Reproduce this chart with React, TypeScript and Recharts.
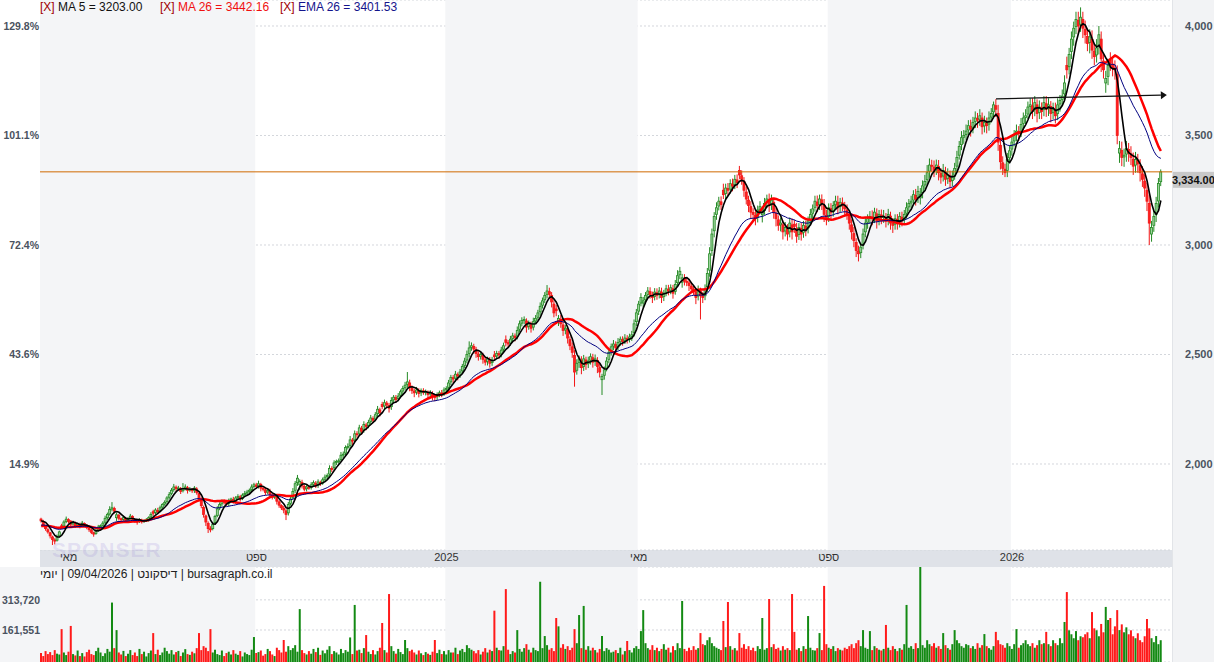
import { Bar, Cell, ComposedChart, CartesianGrid, Line, ReferenceArea, ReferenceLine, XAxis, YAxis } from "recharts";

// closes before the first visible day, only used to warm up the moving averages
const historyCloses = [
  1705, 1712, 1698, 1690, 1702, 1715, 1720, 1708, 1695, 1700, 1712, 1725, 1718,
  1705, 1698, 1710, 1722, 1730, 1718, 1712, 1725, 1738, 1730, 1745, 1752,
];

const closes = [
  1740.5, 1722, 1705, 1690, 1672, 1655, 1648, 1668, 1690, 1712,
  1735, 1748, 1738, 1725, 1732, 1718, 1726, 1715, 1730, 1722,
  1710, 1700, 1688, 1680, 1695, 1712, 1718, 1730, 1752, 1770,
  1792, 1800, 1785, 1768, 1752, 1745, 1755, 1742, 1750, 1762,
  1748, 1740, 1735, 1745, 1738, 1742, 1745, 1755, 1770, 1775,
  1790, 1782, 1800, 1815, 1825, 1845, 1860, 1880, 1895, 1888,
  1890, 1875, 1888, 1895, 1880, 1885, 1878, 1890, 1870, 1845,
  1810, 1770, 1735, 1705, 1700, 1725, 1760, 1795, 1815, 1830,
  1825, 1818, 1832, 1840, 1828, 1845, 1852, 1840, 1858, 1865,
  1872, 1880, 1895, 1905, 1898, 1910, 1890, 1885, 1870, 1878,
  1860, 1848, 1855, 1830, 1812, 1800, 1790, 1770, 1815, 1840,
  1875, 1910, 1935, 1920, 1900, 1885, 1895, 1890, 1905, 1915,
  1900, 1918, 1910, 1928, 1940, 1948, 1980, 1978, 2005, 2012,
  2015, 2040, 2045, 2075, 2080, 2110, 2105, 2138, 2135, 2165,
  2150, 2180, 2172, 2190, 2210, 2200, 2225, 2250, 2235, 2262,
  2280, 2270, 2255, 2290, 2305, 2295, 2310, 2330, 2345, 2360,
  2375, 2350, 2335, 2325, 2338, 2322, 2335, 2328, 2330, 2318,
  2325, 2310, 2305, 2315, 2325, 2320, 2338, 2345, 2370, 2395,
  2388, 2410, 2402, 2420, 2445, 2470, 2500, 2530, 2540, 2525,
  2505, 2490, 2500, 2478, 2465, 2480, 2460, 2475, 2490, 2505,
  2498, 2520, 2540, 2555, 2548, 2570, 2585, 2578, 2610, 2640,
  2655, 2660, 2625, 2640, 2620, 2650, 2665, 2690, 2720, 2745,
  2770, 2790, 2775, 2740, 2690, 2700, 2665, 2640, 2610, 2620,
  2575, 2540, 2510, 2420, 2460, 2480, 2440, 2480, 2455, 2470,
  2490, 2465, 2480, 2445, 2420, 2400, 2430, 2470, 2510, 2535,
  2548, 2530, 2555, 2570, 2560, 2575, 2568, 2580, 2590, 2640,
  2690, 2730, 2760, 2745, 2770, 2790, 2775, 2760, 2785, 2770,
  2790, 2760, 2780, 2800, 2790, 2805, 2780, 2820, 2860, 2880,
  2850, 2835, 2830, 2815, 2800, 2790, 2760, 2795, 2770, 2760,
  2800, 2870, 2960, 3050, 3130, 3170, 3200, 3185, 3230, 3260,
  3250, 3280, 3270, 3300, 3285, 3320, 3300, 3250, 3210, 3180,
  3150, 3140, 3120, 3160, 3175, 3150, 3190, 3210, 3180, 3205,
  3150, 3120, 3090, 3100, 3060, 3080, 3050, 3100, 3060, 3085,
  3040, 3080, 3050, 3090, 3070, 3110, 3140, 3165, 3200, 3180,
  3210, 3190, 3140, 3120, 3170, 3150, 3180, 3200, 3170, 3195,
  3180, 3165, 3140, 3100, 3060, 3020, 2975, 2960, 2990, 3050,
  3100, 3120, 3130, 3120, 3150, 3110, 3140, 3125, 3130, 3110,
  3140, 3100, 3090, 3120, 3100, 3130, 3115, 3140, 3170, 3190,
  3200, 3230, 3210, 3245, 3230, 3270, 3290, 3330, 3365, 3360,
  3340, 3365, 3330, 3310, 3340, 3300, 3320, 3290, 3310, 3350,
  3400, 3450, 3490, 3500, 3520, 3545, 3530, 3560, 3580, 3570,
  3590, 3540, 3560, 3545, 3580, 3600, 3640, 3620, 3470, 3380,
  3350, 3330, 3390, 3430, 3470, 3500, 3520, 3510, 3550, 3580,
  3590, 3630, 3640, 3610, 3650, 3600, 3630, 3610, 3650, 3620,
  3640, 3600, 3620, 3590, 3640, 3660, 3680, 3740, 3800, 3870,
  3940, 3990, 4030, 4000, 4040, 3990, 3960, 3920, 3950, 3890,
  3860, 3900, 3960, 3850, 3800, 3760, 3820, 3830, 3810, 3800,
  3500, 3440, 3400, 3410, 3440, 3420, 3400, 3360, 3390, 3370,
  3330, 3300, 3260, 3200, 3100, 3080, 3130, 3190, 3281, 3334,
];

// close minus open of each day
const bodies = [
  -8, -15, -12, -10, -14, -12, -5, 16, 18, -6,
  18, 10, -8, -14, 6, -12, 7, -9, 12, -6,
  -10, -8, -10, -6, 12, 14, 4, 10, 18, 15,
  20, 6, -12, 13, -14, -5, 8, -10, 6, 10,
  -12, -6, -4, 8, -6, 3, 2, 8, 12, -7,
  12, -6, 15, 12, 8, 16, 12, 15, 12, -6,
  2, -12, 10, 5, -12, 4, -6, 10, -16, -20,
  -28, -32, -28, -24, -4, 20, 28, 30, 16, 12,
  -4, -6, 12, 6, -10, 14, 5, -10, 15, 5,
  5, 6, 12, 8, -6, 10, -16, -4, -12, 6,
  -15, -10, 6, -20, -15, -10, -8, -16, 38, 20,
  28, 30, 20, 15, -16, -12, 8, -4, 12, 8,
  -12, 15, -6, 15, 10, 6, 26, -2, 22, 5,
  2, 20, 4, 25, 4, 25, -4, 28, -3, 25,
  -12, 25, -6, 15, 16, -8, 20, 20, -12, -10,
  15, -8, -12, 28, 12, -8, 12, 16, 12, 12,
  12, -20, -12, -8, 10, -12, 10, -6, 2, -10,
  5, -12, -4, 8, 8, -4, 15, 5, 20, 20,
  -6, 18, -6, 15, 20, 20, 25, 25, 8, -12,
  -16, -12, 8, -18, -10, 12, -16, 12, -8, 12,
  -6, 18, 16, -12, -6, 18, 12, -6, 26, 25,
  12, 4, -28, 12, -16, 25, 12, 20, 25, 20,
  20, 16, -12, -30, -40, -8, 15, -20, -25, 8,
  -38, -28, -25, -75, 32, 16, -32, 35, -20, 12,
  16, -20, 12, -28, -20, 15, 25, 32, 32, 20,
  10, -15, 20, 12, -8, 12, -6, 10, 8, 40,
  40, 32, 25, 10, 20, 16, -12, -12, 20, -12,
  16, -25, 16, 16, -8, 12, -20, 32, 32, 16,
  20, -12, -4, -12, -12, -8, -25, 28, -20, -8,
  32, 60, 75, 75, 65, 30, 22, -12, -20, 25,
  -8, 25, -8, 25, -12, -20, -16, -40, -32, -25,
  -25, -8, -16, 32, 12, 12, 32, 16, -25, 20,
  -45, -25, -25, 8, -32, 16, -25, 40, -32, -10,
  -36, 32, -25, 32, -16, 32, 25, 20, 28, -16,
  25, -16, -40, -16, 40, -16, 25, 16, -25, 20,
  -12, -12, -20, -32, -32, -32, -36, -12, 25, 50,
  40, 16, 8, -8, 25, -32, 25, -12, 4, -16,
  25, -32, -8, 25, -16, 25, -12, 20, 25, 16,
  8, 25, -16, 28, 15, 32, 16, 32, 28, -4,
  -16, 20, -28, -16, 25, -32, 16, -25, 16, 32,
  40, 40, 32, 8, 16, 20, -12, 25, 16, -8,
  16, -40, 16, -12, 28, 16, 32, -16, -130, -75,
  -25, -16, 50, 32, 32, 25, 16, -8, 32, 25,
  8, 32, 8, -25, 32, -40, 25, -16, 32, -25,
  16, -32, 16, -25, 40, 16, 16, 50, -20, 56,
  56, 40, 32, -25, 32, -40, -25, -32, 25, -50,
  -25, 32, 50, -90, -40, 20, 50, -15, -16, -8,
  -280, 20, -32, 8, 25, -16, -16, -32, 25, -16,
  -32, -25, -32, -50, -90, 30, 40, 50, 80, 45,
];

// upper shadow above the body
const wickHi = [
  6, 8, 5, 7, 4, 6, 8, 10, 6, 9,
  8, 12, 6, 5, 9, 7, 6, 8, 10, 5,
  6, 4, 7, 5, 8, 10, 6, 9, 12, 8,
  15, 26, 8, 10, 6, 5, 9, 6, 8, 10,
  6, 5, 8, 7, 6, 5, 8, 6, 10, 9,
  8, 12, 10, 6, 9, 8, 12, 10, 14, 8,
  10, 8, 25, 12, 8, 10, 6, 9, 8, 6,
  10, 8, 6, 9, 12, 10, 8, 12, 10, 8,
  9, 8, 10, 6, 12, 8, 10, 9, 8, 12,
  10, 8, 12, 9, 10, 14, 8, 10, 6, 9,
  12, 8, 10, 9, 8, 6, 10, 8, 12, 10,
  15, 12, 15, 10, 12, 8, 10, 9, 12, 10,
  10, 12, 8, 10, 12, 9, 14, 10, 12, 8,
  10, 15, 12, 10, 14, 18, 10, 15, 12, 14,
  12, 15, 10, 12, 14, 10, 12, 15, 10, 12,
  14, 10, 12, 15, 10, 12, 14, 10, 12, 15,
  45, 15, 12, 10, 14, 12, 10, 12, 10, 8,
  12, 10, 8, 12, 10, 14, 12, 10, 14, 12,
  12, 15, 10, 14, 12, 15, 18, 30, 15, 12,
  14, 12, 10, 12, 14, 10, 12, 14, 18, 12,
  12, 15, 14, 20, 12, 15, 14, 12, 18, 15,
  15, 14, 12, 15, 14, 18, 15, 14, 18, 15,
  15, 27, 18, 15, 20, 18, 15, 20, 18, 15,
  18, 15, 20, 25, 18, 15, 20, 18, 15, 20,
  15, 18, 20, 15, 18, 12, 15, 18, 20, 15,
  18, 15, 20, 12, 15, 18, 14, 15, 18, 20,
  18, 15, 20, 18, 15, 18, 20, 15, 18, 20,
  18, 20, 15, 18, 20, 15, 18, 20, 25, 20,
  18, 20, 15, 18, 20, 15, 18, 20, 15, 18,
  20, 25, 30, 25, 20, 25, 20, 25, 30, 20,
  25, 20, 25, 20, 25, 21, 25, 20, 25, 20,
  25, 20, 25, 20, 25, 20, 25, 20, 30, 25,
  20, 25, 20, 25, 20, 25, 20, 25, 30, 20,
  25, 20, 25, 20, 25, 20, 25, 20, 25, 30,
  20, 25, 30, 25, 20, 25, 20, 25, 30, 20,
  25, 20, 25, 20, 25, 30, 20, 25, 20, 25,
  25, 20, 25, 30, 20, 25, 20, 25, 30, 20,
  25, 20, 25, 20, 25, 20, 25, 20, 25, 20,
  25, 20, 30, 25, 30, 25, 30, 35, 30, 25,
  30, 25, 30, 25, 30, 25, 30, 25, 30, 25,
  30, 25, 30, 25, 30, 25, 30, 25, 30, 25,
  30, 25, 30, 25, 30, 25, 15, 30, 40, 35,
  30, 25, 30, 25, 30, 25, 30, 25, 30, 25,
  30, 25, 30, 35, 30, 25, 30, 25, 30, 35,
  30, 25, 30, 35, 30, 25, 30, 35, 40, 30,
  35, 30, 35, 40, 45, 35, 40, 30, 35, 40,
  35, 40, 40, 35, 30, 35, 30, 35, 30, 35,
  40, 35, 40, 30, 35, 30, 35, 30, 35, 30,
  30, 35, 30, 35, 40, 30, 25, 30, 25, 11,
];

// lower shadow below the body
const wickLo = [
  8, 6, 10, 8, 12, 25, 15, 6, 8, 5,
  6, 8, 10, 12, 6, 10, 8, 9, 6, 10,
  8, 10, 8, 12, 6, 8, 10, 6, 8, 10,
  8, 10, 12, 15, 10, 8, 6, 10, 8, 6,
  10, 8, 12, 6, 10, 8, 6, 10, 8, 12,
  8, 10, 6, 9, 8, 12, 10, 8, 10, 12,
  10, 12, 8, 10, 15, 8, 10, 12, 10, 15,
  12, 15, 18, 20, 12, 8, 10, 8, 10, 12,
  10, 8, 12, 10, 8, 12, 10, 12, 8, 10,
  8, 10, 12, 8, 10, 12, 15, 10, 12, 10,
  12, 10, 8, 15, 12, 10, 15, 26, 12, 10,
  10, 12, 15, 25, 12, 10, 12, 8, 10, 12,
  10, 12, 10, 8, 12, 10, 8, 15, 10, 12,
  12, 10, 15, 12, 10, 15, 18, 12, 15, 10,
  15, 12, 18, 12, 15, 12, 10, 15, 18, 12,
  15, 12, 20, 15, 12, 15, 12, 10, 15, 12,
  15, 18, 15, 20, 12, 18, 15, 12, 15, 18,
  15, 20, 18, 15, 12, 15, 12, 15, 12, 15,
  18, 15, 20, 12, 15, 12, 15, 18, 15, 20,
  20, 18, 15, 20, 15, 18, 20, 15, 18, 15,
  18, 15, 12, 18, 15, 12, 15, 18, 15, 12,
  15, 18, 25, 15, 20, 15, 12, 15, 18, 15,
  15, 18, 20, 25, 20, 25, 20, 18, 25, 20,
  25, 20, 25, 67, 20, 25, 30, 20, 25, 20,
  20, 25, 20, 30, 25, 70, 20, 15, 18, 20,
  18, 20, 15, 18, 20, 15, 18, 15, 20, 18,
  20, 18, 15, 20, 18, 15, 20, 25, 18, 20,
  18, 25, 20, 18, 20, 18, 25, 15, 18, 20,
  25, 20, 18, 25, 20, 18, 30, 20, 110, 25,
  20, 25, 30, 25, 30, 25, 20, 25, 20, 25,
  25, 20, 25, 20, 25, 20, 25, 30, 25, 30,
  30, 25, 30, 25, 20, 35, 20, 25, 30, 25,
  30, 35, 25, 30, 35, 25, 30, 25, 35, 30,
  30, 25, 30, 25, 30, 25, 20, 25, 20, 30,
  25, 30, 35, 30, 25, 30, 25, 20, 30, 25,
  25, 30, 25, 30, 35, 30, 30, 35, 25, 20,
  25, 30, 25, 30, 25, 35, 25, 30, 25, 30,
  25, 30, 35, 25, 30, 25, 30, 20, 25, 20,
  25, 20, 30, 25, 30, 25, 20, 25, 30, 25,
  30, 25, 35, 30, 25, 30, 25, 30, 25, 20,
  25, 20, 25, 30, 25, 30, 35, 25, 30, 35,
  30, 35, 30, 35, 30, 25, 30, 35, 40, 35,
  30, 20, 30, 25, 30, 25, 30, 35, 25, 30,
  30, 25, 30, 35, 30, 40, 30, 35, 30, 35,
  35, 40, 30, 35, 30, 35, 30, 35, 40, 35,
  35, 40, 35, 40, 35, 45, 40, 35, 50, 40,
  40, 35, 40, 60, 40, 45, 40, 35, 40, 45,
  40, 45, 40, 45, 35, 40, 35, 40, 35, 40,
  40, 35, 40, 45, 100, 35, 30, 35, 30, 20,
];

// daily volume, thousands of shares
const volumesK = [
  45, 30, 55, 40, 50, 35, 60, 42, 38, 166,
  48, 35, 52, 182, 40, 33, 58, 30, 45, 28,
  50, 62, 40, 35, 55, 72, 48, 30, 44, 66,
  52, 300, 70, 161, 48, 38, 56, 30, 42, 60,
  35, 48, 30, 66, 40, 52, 28, 45, 58, 146,
  40, 62, 35, 48, 72, 55, 42, 60, 38, 50,
  56, 30, 48, 65, 40, 36, 52, 44, 70, 146,
  60, 80, 72, 55, 166, 48, 62, 40, 35, 58,
  30, 45, 52, 38, 60, 42, 36, 55, 28, 48,
  40, 35, 62, 126, 45, 50, 58, 32, 40, 66,
  55, 38, 30, 72, 60, 48, 111, 52, 80, 60,
  70, 85, 52, 267, 60, 45, 38, 55, 42, 66,
  50, 72, 36, 58, 44, 62, 80, 40, 55, 48,
  38, 66, 45, 60, 52, 124, 40, 288, 58, 62,
  45, 70, 136, 52, 40, 60, 38, 55, 72, 197,
  60, 48, 343, 80, 55, 42, 66, 50, 40, 111,
  70, 55, 62, 48, 38, 58, 44, 35, 50, 42,
  36, 52, 111, 45, 62, 40, 55, 38, 60, 48,
  48, 72, 40, 58, 66, 50, 85, 70, 62, 55,
  44, 60, 38, 52, 70, 48, 62, 55, 259, 72,
  60, 58, 80, 368, 62, 40, 55, 48, 161, 66,
  52, 70, 90, 62, 48, 72, 60, 55, 405, 70,
  131, 85, 62, 70, 55, 222, 180, 72, 90, 66,
  80, 60, 72, 166, 95, 237, 70, 283, 62, 80,
  58, 72, 60, 48, 66, 131, 55, 70, 62, 48,
  52, 60, 45, 72, 38, 55, 106, 60, 48, 70,
  80, 66, 156, 262, 95, 70, 62, 85, 60, 72,
  55, 66, 90, 62, 72, 48, 80, 60, 95, 70,
  308, 66, 55, 72, 60, 80, 62, 70, 146, 90,
  85, 110, 125, 95, 80, 72, 66, 60, 207, 75,
  303, 80, 62, 70, 58, 146, 72, 90, 66, 80,
  60, 72, 55, 80, 66, 222, 62, 70, 318, 75,
  90, 66, 72, 58, 80, 62, 70, 60, 343, 152,
  62, 70, 55, 80, 66, 232, 72, 60, 58, 70,
  146, 60, 384, 90, 72, 66, 80, 55, 70, 62,
  58, 72, 66, 80, 90, 70, 95, 110, 80, 161,
  72, 66, 156, 60, 80, 70, 62, 58, 66, 187,
  72, 60, 80, 66, 55, 70, 62, 90, 288, 72,
  80, 66, 95, 70, 480, 85, 72, 110, 90, 80,
  95, 72, 80, 66, 146, 85, 70, 62, 90, 161,
  110, 95, 80, 72, 90, 85, 70, 80, 66, 95,
  72, 85, 141, 80, 70, 62, 80, 152, 110, 90,
  85, 72, 95, 80, 66, 90, 166, 72, 85, 95,
  110, 90, 80, 95, 72, 85, 110, 90, 95, 152,
  90, 80, 110, 95, 85, 120, 95, 202, 353, 160,
  140, 120, 156, 110, 130, 125, 140, 150, 120, 252,
  170, 160, 130, 192, 150, 278, 212, 222, 140, 180,
  262, 161, 190, 150, 175, 140, 160, 130, 120, 145,
  110, 100, 130, 217, 170, 120, 100, 131, 90, 110,
];

const tickIdx = [12, 94, 177, 261, 344, 424];
const tickLabels = ["מאי", "ספט", "2025", "מאי", "ספט", "2026"];
const shadeBands: [number, number][] = [[0, 93], [177, 260], [344, 423]];
const priceTicks = [2000, 2500, 3000, 3500, 4000];
const volumeTicks = [161551, 313720];
const lastPrice = 3334;
const trendFrom = { i: 417, p: 3667 };
const trendTo = { i: 489, p: 3684 };

const indicators = [
  { text: "MA 5 = 3203.00", color: "#111111", left: 40 },
  { text: "MA 26 = 3442.16", color: "#f01010", left: 160 },
  { text: "EMA 26 = 3401.53", color: "#14148c", left: 280 },
];

const PRICE_DOMAIN: [number, number] = [1607.3, 4118.7];
const VOL_DOMAIN: [number, number] = [0, 479500];
const FONT = '"Liberation Sans", Arial, Helvetica, sans-serif';
const AXIS_TEXT = { fontSize: 11, fill: "#4a5260", fontWeight: 700 };

const allCloses = [...historyCloses, ...closes];
const offset = historyCloses.length;

function sma(n: number, j: number) {
  let s = 0;
  let k = 0;
  for (let t = Math.max(0, j - n + 1); t <= j; t++) {
    s += allCloses[t];
    k++;
  }
  return s / k;
}

const emaAll: number[] = [];
allCloses.forEach((v, j) => {
  const a = 2 / 27;
  emaAll.push(j === 0 ? v : a * v + (1 - a) * emaAll[j - 1]);
});

const rows = closes.map((c, i) => {
  const o = c - bodies[i];
  const hi = Math.max(o, c) + wickHi[i];
  const lo = Math.min(o, c) - wickLo[i];
  const j = i + offset;
  return {
    i,
    o,
    c,
    hi,
    lo,
    range: [lo, hi],
    vol: volumesK[i] * 1000,
    up: c >= o,
    ma5: sma(5, j),
    ma26: sma(26, j),
    ema26: emaAll[j],
  };
});

function Candle(props: any) {
  const { x, y, width, height, payload } = props;
  if (x == null || !payload) return null;
  const top = Math.min(y, y + height);
  const h = Math.abs(height);
  const { o, c, hi, lo } = payload;
  const k = hi > lo ? h / (hi - lo) : 0;
  const yo = top + (hi - o) * k;
  const yc = top + (hi - c) * k;
  const up = c >= o;
  const bw = Math.max(1, width);
  const cx = x + bw / 2;
  const line = up ? "#248a24" : "#f21616";
  return (
    <g>
      <line x1={cx} x2={cx} y1={top} y2={top + h} stroke={line} strokeWidth={1} />
      <rect
        x={x}
        y={Math.min(yo, yc)}
        width={bw}
        height={Math.max(1, Math.abs(yo - yc))}
        fill={up ? "#9fd49f" : "#ff1f1f"}
        stroke={line}
        strokeWidth={0.8}
      />
    </g>
  );
}

function PriceLine(props: any) {
  const { x1, y1, x2 } = props;
  const left = Math.min(x1, x2);
  const right = Math.max(x1, x2);
  return (
    <g>
      <line x1={left} y1={y1} x2={right} y2={y1} stroke="#d06a00" strokeWidth={1} />
      <rect x={right + 1} y={y1} width={44} height={16} fill="#c8c8c8" />
      <text x={right} y={y1 + 12} fontSize={11} fontWeight={700} fill="#111" fontFamily={FONT}>
        {lastPrice.toLocaleString("en-US", { minimumFractionDigits: 2 })}
      </text>
    </g>
  );
}

function TrendArrow(props: any) {
  const { x1, y1, x2, y2 } = props;
  const ang = Math.atan2(y2 - y1, x2 - x1);
  const tipX = x2 + Math.cos(ang) * 6;
  const tipY = y2 + Math.sin(ang) * 6;
  const px = -Math.sin(ang) * 4;
  const py = Math.cos(ang) * 4;
  return (
    <g>
      <line x1={x1} y1={y1} x2={x2} y2={y2} stroke="#111" strokeWidth={1.3} />
      <polygon points={`${tipX},${tipY} ${x2 + px},${y2 + py} ${x2 - px},${y2 - py}`} fill="#111" />
    </g>
  );
}

const pct = (v: number) => `${((v / closes[0] - 1) * 100).toFixed(1)}%`;
const tickText = (v: number) => tickLabels[tickIdx.indexOf(v)] ?? "";

export default function App() {
  return (
    <div
      style={{
        position: "fixed",
        left: 0,
        top: 0,
        width: 1214,
        height: 662,
        background: "#fff",
        fontFamily: FONT,
        overflow: "hidden",
      }}
    >
      <div style={{ position: "absolute", left: 1172, top: 0, width: 42, height: 662, background: "#f2f3f5", borderLeft: "1px solid #e2e4e8" }} />
      <div style={{ position: "absolute", left: 40, top: 550, width: 1132, height: 17, background: "#dfe2e8" }} />
      <div style={{ position: "absolute", left: 0, top: 567, width: 40, height: 95, background: "#f4f5f7" }} />

      <div style={{ position: "absolute", left: 0, top: 0 }}>
        <ComposedChart width={1214} height={567} data={rows} margin={{ top: 0, right: 0, bottom: 0, left: 0 }} barCategoryGap={0}>
          <XAxis
            dataKey="i"
            ticks={tickIdx}
            interval={0}
            tickFormatter={tickText}
            axisLine={false}
            tickLine={false}
            tickSize={0}
            tickMargin={3}
            height={17}
            padding={{ left: 0, right: 10 }}
            tick={{ fontSize: 11, fill: "#333" }}
          />
          <YAxis
            yAxisId="pct"
            orientation="left"
            width={40}
            domain={PRICE_DOMAIN}
            ticks={priceTicks}
            tickFormatter={pct}
            allowDataOverflow
            axisLine={false}
            tickLine={false}
            tickSize={0}
            tickMargin={1}
            tick={{ ...AXIS_TEXT, fontSize: 10.5 }}
          />
          <YAxis
            yAxisId="price"
            orientation="right"
            width={42}
            domain={PRICE_DOMAIN}
            ticks={priceTicks}
            tickFormatter={(v: number) => v.toLocaleString("en-US")}
            allowDataOverflow
            axisLine={false}
            tickLine={false}
            tickSize={0}
            tickMargin={13}
            tick={{ ...AXIS_TEXT, textAnchor: "start" }}
          />
          {shadeBands.map(([a, b]) => (
            <ReferenceArea key={a} yAxisId="price" x1={a} x2={b} fill="#f4f5f7" fillOpacity={1} stroke="none" />
          ))}
          <CartesianGrid yAxisId="price" vertical={false} stroke="#d4d7dc" strokeDasharray="2 2" />
          <ReferenceLine yAxisId="price" y={lastPrice} shape={PriceLine} />
          <Bar yAxisId="price" dataKey="range" shape={<Candle />} isAnimationActive={false} />
          <Line yAxisId="price" dataKey="ma26" stroke="#ff0000" strokeWidth={2.5} dot={false} isAnimationActive={false} />
          <Line yAxisId="price" dataKey="ema26" stroke="#00007f" strokeWidth={1} dot={false} isAnimationActive={false} />
          <Line yAxisId="price" dataKey="ma5" stroke="#000000" strokeWidth={1.6} dot={false} isAnimationActive={false} />
          <ReferenceLine
            yAxisId="price"
            segment={[{ x: trendFrom.i, y: trendFrom.p }, { x: trendTo.i, y: trendTo.p }]}
            shape={TrendArrow}
            ifOverflow="visible"
          />
        </ComposedChart>
      </div>

      <div style={{ position: "absolute", left: 0, top: 567 }}>
        <ComposedChart width={1214} height={95} data={rows} margin={{ top: 0, right: 42, bottom: 0, left: 0 }} barCategoryGap={0}>
          <XAxis dataKey="i" hide padding={{ left: 0, right: 10 }} />
          <YAxis
            yAxisId="v"
            width={40}
            domain={VOL_DOMAIN}
            ticks={volumeTicks}
            tickFormatter={(v: number) => v.toLocaleString("en-US")}
            allowDataOverflow
            axisLine={false}
            tickLine={false}
            tickSize={0}
            tickMargin={0}
            tick={{ ...AXIS_TEXT, fontSize: 10.5 }}
          />
          {shadeBands.map(([a, b]) => (
            <ReferenceArea key={a} yAxisId="v" x1={a} x2={b} fill="#f4f5f7" fillOpacity={1} stroke="none" />
          ))}
          <CartesianGrid yAxisId="v" vertical={false} stroke="#d4d7dc" strokeDasharray="2 2" />
          <Bar yAxisId="v" dataKey="vol" isAnimationActive={false}>
            {rows.map((r) => (
              <Cell key={r.i} fill={r.up ? "#138a13" : "#ff1a1a"} />
            ))}
          </Bar>
        </ComposedChart>
      </div>

      <div
        style={{
          position: "absolute",
          left: 52,
          top: 538,
          fontSize: 21,
          fontWeight: 700,
          letterSpacing: 1,
          color: "rgba(150, 130, 215, 0.2)",
          pointerEvents: "none",
        }}
      >
        SPONSER
      </div>

      <div style={{ position: "absolute", left: 40, top: 567, display: "flex", fontSize: 12, color: "#222", whiteSpace: "pre", lineHeight: "14px" }}>
        <span>יומי</span>
        <span>{" | 09/04/2026 | "}</span>
        <span>דיסקונט</span>
        <span>{" | bursagraph.co.il"}</span>
      </div>

      {indicators.map((it) => (
        <div key={it.text} style={{ position: "absolute", left: it.left, top: 0, fontSize: 12, lineHeight: "14px", whiteSpace: "pre" }}>
          <span style={{ color: "#a00000" }}>[X] </span>
          <span style={{ color: it.color }}>{it.text}</span>
        </div>
      ))}
    </div>
  );
}
